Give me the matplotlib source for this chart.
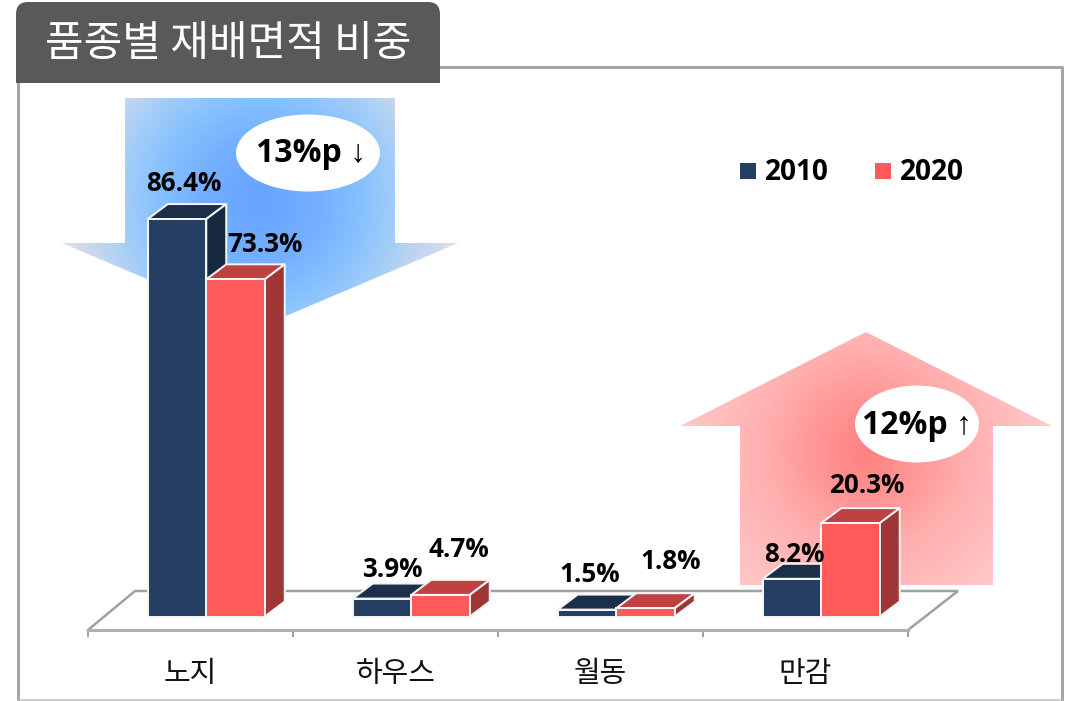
import numpy as np
import matplotlib
matplotlib.use('Agg')
import matplotlib.pyplot as plt
from matplotlib.patches import Polygon, Ellipse, Rectangle, FancyBboxPatch
from matplotlib.colors import to_rgb

# chart values
categories = ['노지', '하우스', '월동', '만감']
values_2010 = [86.4, 3.9, 1.5, 8.2]
values_2020 = [73.3, 4.7, 1.8, 20.3]
series_names = ['2010', '2020']
title = '품종별 재배면적 비중'
callout_down = '13%p ↓'
callout_up = '12%p ↑'

LATIN = ['Open Sans', 'Liberation Sans', 'Noto Sans CJK KR', 'DejaVu Sans']
KOREAN = ['Noto Sans CJK KR', 'DejaVu Sans']
PX = 0.72  # font size in points for one pixel at dpi 100

NAVY = ('#243F63', '#1C2F48', '#18293F')  # front, top, side
RED = ('#FF5A5A', '#BE4242', '#9E3636')
GREY = '#A0A0A0'


def radial_fill(ax, outline, center, stops):
    # radial gradient clipped to the outline polygon
    outline = np.array(outline)
    x0, x1 = outline[:, 0].min(), outline[:, 0].max()
    y0, y1 = outline[:, 1].min(), outline[:, 1].max()
    xx, yy = np.meshgrid(np.arange(x0, x1 + 1), np.arange(y0, y1 + 1))
    dist = np.hypot(xx - center[0], yy - center[1])
    radii = [s[0] for s in stops]
    rgb = np.array([to_rgb(s[1]) for s in stops])
    img = np.dstack([np.interp(dist, radii, rgb[:, i]) for i in range(3)])
    im = ax.imshow(img, extent=(x0, x1, y1, y0), aspect='auto', zorder=1, interpolation='bilinear')
    patch = Polygon(outline, closed=True, transform=ax.transData, fc='none', ec='none')
    ax.add_patch(patch)
    im.set_clip_path(patch)


fig = plt.figure(figsize=(10.74, 7.01), dpi=100)

# background layer in pixel coordinates
bg = fig.add_axes([0, 0, 1, 1])
bg.axis('off')

# frame
bg.plot([18, 18, 1062, 1062], [701, 67, 67, 701], color='#A6A6A6', lw=3 * PX, zorder=1, solid_capstyle='butt')
bg.plot([18, 1062], [699.5, 699.5], color='#BDBDBD', lw=1.5 * PX, zorder=1)

# big arrows
radial_fill(bg, [(125, 98), (395, 98), (395, 243), (458, 243), (260, 327), (62, 243), (125, 243)], (260, 200),
            [(0, '#66A3FF'), (60, '#74AFFF'), (100, '#85C0FF'), (140, '#A5CEF8'), (170, '#C5D6EE'), (205, '#DCE0F0')])
radial_fill(bg, [(866, 332), (1052, 426), (993, 426), (993, 585), (740, 585), (740, 426), (680, 426)], (866, 450),
            [(0, '#FF8080'), (60, '#FF9A9A'), (100, '#FFAEAE'), (150, '#FFBEBE'), (200, '#FFCCCC')])

# floor, back and side edges
bg.plot([88, 135, 958, 908], [630, 591, 591, 630], color=GREY, lw=2.5 * PX, zorder=2, solid_joinstyle='miter')

# title tab
bg.add_patch(FancyBboxPatch((26, 12), 404, 60, boxstyle='round,pad=10,rounding_size=12', fc='#595959', ec='none', zorder=3))
bg.add_patch(Rectangle((16, 45), 424, 38, fc='#595959', ec='none', zorder=3))
bg.text(228, 44, title, color='white', fontsize=42 * PX, family=KOREAN, ha='center', va='center', zorder=4)

# callouts
bg.add_patch(Ellipse((308, 153), 144, 77, fc='white', ec='none', zorder=3))
bg.text(311, 154, callout_down, fontsize=32 * PX, family=LATIN, weight='bold', ha='center', va='center', zorder=4)
bg.add_patch(Ellipse((917, 424), 124, 77, fc='white', ec='none', zorder=3))
bg.text(917, 426, callout_up, fontsize=32 * PX, family=LATIN, weight='bold', ha='center', va='center', zorder=4)

# legend
for name, left, col in zip(series_names, [740, 875], [NAVY[0], RED[0]]):
    bg.add_patch(Rectangle((left, 163), 16, 16, fc=col, ec='none', zorder=3))
    bg.text(left + 25, 173, name, fontsize=28 * PX, family=LATIN, weight='bold', ha='left', va='center', zorder=4)

bg.set_xlim(0, 1074)
bg.set_ylim(701, 0)

# bars, x is category index, y is percent (4.6 px per percent, zero 13.5 px above the front edge)
ax = fig.add_axes([88 / 1074, (701 - 630) / 701, 820 / 1074, 570 / 701])
ax.patch.set_alpha(0)
ax.set_xlim(-0.5, 3.5)
ax.set_ylim(-13.5 / 4.6, 556.5 / 4.6)

bar_w = 58.5 / 205
depth_x = 20 / 205
depth_y = 15 / 4.6
offsets = [-13.5 / 205, 45 / 205]
edge = dict(ec='#F4F4F4', lw=2 * PX, joinstyle='miter')

for k, (vals, cols) in enumerate(zip([values_2010, values_2020], [NAVY, RED])):
    xs = np.arange(len(categories)) + offsets[k]
    ax.bar(xs, vals, bar_w, color=cols[0], zorder=3 + 2 * k, **edge)
    for x, v in zip(xs, vals):
        l, r = x - bar_w / 2, x + bar_w / 2
        ax.add_patch(Polygon([(l, v), (r, v), (r + depth_x, v + depth_y), (l + depth_x, v + depth_y)],
                             closed=True, fc=cols[1], zorder=2 + 2 * k, clip_on=False, **edge))
        ax.add_patch(Polygon([(r, 0), (r, v), (r + depth_x, v + depth_y), (r + depth_x, depth_y)],
                             closed=True, fc=cols[2], zorder=2 + 2 * k, clip_on=False, **edge))

# data labels were moved by hand in the original, offsets are from the front top centre of each bar
label_shift_2010 = [(7, 36), (10, 29), (3, 35), (2, 24)]
label_shift_2020 = [(29, 35), (18, 45), (25, 47), (16, 38)]
for k, (vals, shifts) in enumerate(zip([values_2010, values_2020], [label_shift_2010, label_shift_2020])):
    for i, (v, s) in enumerate(zip(vals, shifts)):
        ax.annotate(f'{v}%', (i + offsets[k], v), xytext=s, textcoords='offset pixels', fontsize=26 * PX,
                    family=LATIN, weight='bold', ha='center', va='center', zorder=10, annotation_clip=False)

for side in ['left', 'right', 'top']:
    ax.spines[side].set_visible(False)
ax.spines['bottom'].set_color('#B0B0B0')
ax.spines['bottom'].set_linewidth(3 * PX)
ax.set_yticks([])
ax.set_xticks(range(len(categories)))
ax.set_xticklabels(categories, fontsize=29 * PX, family=KOREAN, color='#111111')
ax.tick_params(axis='x', which='major', length=0, pad=29 * PX)
ax.set_xticks(np.arange(-0.5, 4), minor=True)
ax.tick_params(axis='x', which='minor', length=7 * PX, width=2 * PX, color=GREY)

fig.savefig('out.png', dpi=100)
